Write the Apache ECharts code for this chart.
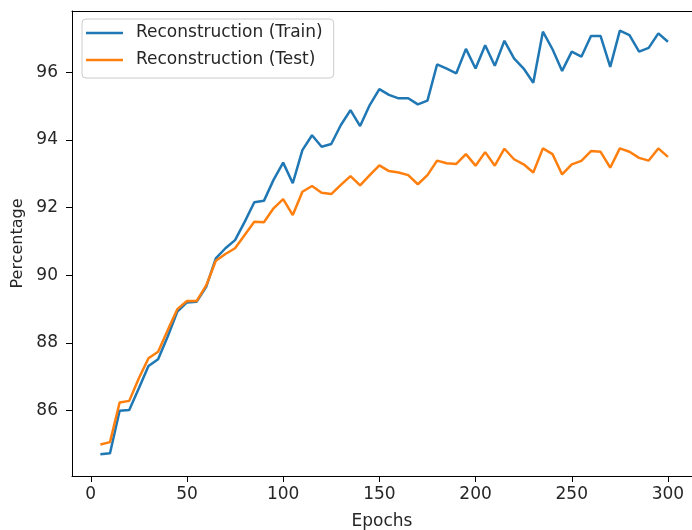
<!DOCTYPE html>
<html>
<head>
<meta charset="utf-8">
<script src="https://cdn.jsdelivr.net/npm/echarts@6/dist/echarts.min.js"></script>
<style>
  html, body { margin: 0; padding: 0; background: #fff; }
  #chart { width: 692px; height: 530px; }
</style>
</head>
<body>
<div id="chart"></div>
<script>
// epochs on x axis
const epochs = [5, 10, 15, 20, 25, 30, 35, 40, 45, 50, 55, 60, 65, 70, 75, 80, 85, 90, 95, 100,
    105, 110, 115, 120, 125, 130, 135, 140, 145, 150, 155, 160, 165, 170, 175, 180, 185, 190, 195, 200,
    205, 210, 215, 220, 225, 230, 235, 240, 245, 250, 255, 260, 265, 270, 275, 280, 285, 290, 295, 300];

const trainAcc = [84.71, 84.74, 86.00, 86.02, 86.66, 87.32, 87.52, 88.19, 88.93, 89.20,
    89.22, 89.66, 90.50, 90.80, 91.04, 91.58, 92.16, 92.20, 92.82, 93.33,
    92.72, 93.70, 94.14, 93.80, 93.88, 94.44, 94.88, 94.41, 95.03, 95.50,
    95.33, 95.23, 95.23, 95.05, 95.16, 96.23, 96.11, 95.97, 96.69, 96.11,
    96.80, 96.19, 96.93, 96.41, 96.11, 95.69, 97.20, 96.68, 96.04, 96.61,
    96.46, 97.07, 97.07, 96.16, 97.23, 97.10, 96.61, 96.72, 97.15, 96.90];

const testAcc = [85.00, 85.07, 86.24, 86.29, 86.96, 87.55, 87.74, 88.38, 89.00, 89.24,
    89.24, 89.70, 90.43, 90.63, 90.80, 91.19, 91.58, 91.57, 91.98, 92.25,
    91.78, 92.47, 92.64, 92.44, 92.40, 92.67, 92.93, 92.66, 92.96, 93.25,
    93.08, 93.04, 92.96, 92.69, 92.96, 93.39, 93.31, 93.29, 93.58, 93.24,
    93.64, 93.24, 93.74, 93.43, 93.28, 93.04, 93.75, 93.58, 92.98, 93.28,
    93.38, 93.67, 93.65, 93.18, 93.75, 93.65, 93.47, 93.39, 93.75, 93.50];

const xTicks = [0, 50, 100, 150, 200, 250, 300];
const yTicks = [86, 88, 90, 92, 94, 96];

const FONT = 'DejaVu Sans';
const TXT = '#262626';

const chart = echarts.init(document.getElementById('chart'));

const option = {
    animation: false,
    backgroundColor: '#fff',
    textStyle: { fontFamily: FONT },
    grid: {
        left: 72,
        top: 11,
        right: 0,
        height: 465,
        show: false,
        outerBoundsMode: 'none'
    },
    legend: {
        orient: 'vertical',
        left: 82,
        top: 19,
        padding: [4, 11, 8, 4],
        itemGap: 7,
        itemWidth: 37,
        itemHeight: 2.5,
        icon: 'rect',
        borderColor: '#cccccc',
        borderWidth: 1,
        borderRadius: 4,
        backgroundColor: 'rgba(255,255,255,0.8)',
        textStyle: {
            fontFamily: FONT,
            fontSize: 17,
            lineHeight: 20,
            color: TXT,
            padding: [0, 0, 0, 8]
        },
        data: ['Reconstruction (Train)', 'Reconstruction (Test)']
    },
    xAxis: [
        {
            type: 'value',
            min: -9.75,
            max: 312.5,
            name: 'Epochs',
            nameLocation: 'middle',
            nameGap: 37,
            nameTextStyle: { fontFamily: FONT, fontSize: 17, color: TXT },
            axisLine: { show: true, onZero: false, lineStyle: { color: '#000', width: 1 } },
            axisTick: {
                show: true, length: 6, inside: false,
                lineStyle: { color: '#000' },
                customValues: xTicks
            },
            axisLabel: {
                fontFamily: FONT, fontSize: 17, color: TXT, margin: 10,
                customValues: xTicks
            },
            splitLine: { show: false }
        },
        {
            // top spine only
            type: 'value',
            position: 'top',
            min: -9.75,
            max: 312.5,
            axisLine: { show: true, onZero: false, lineStyle: { color: '#000', width: 1 } },
            axisTick: { show: false },
            axisLabel: { show: false },
            splitLine: { show: false }
        }
    ],
    yAxis: {
        type: 'value',
        min: 84.07,
        max: 97.81,
        name: 'Percentage',
        nameLocation: 'middle',
        nameGap: 37,
        nameTextStyle: { fontFamily: FONT, fontSize: 16, color: TXT },
        axisLine: { show: true, onZero: false, lineStyle: { color: '#000', width: 1 } },
        axisTick: {
            show: true, length: 6, inside: false,
            lineStyle: { color: '#000' },
            customValues: yTicks
        },
        axisLabel: {
            fontFamily: FONT, fontSize: 17, color: TXT, margin: 14,
            customValues: yTicks
        },
        splitLine: { show: false }
    },
    series: [
        {
            name: 'Reconstruction (Train)',
            type: 'line',
            data: epochs.map((e, i) => [e, trainAcc[i]]),
            symbol: 'none',
            color: '#1f77b4',
            lineStyle: { width: 2.5, color: '#1f77b4' }
        },
        {
            name: 'Reconstruction (Test)',
            type: 'line',
            data: epochs.map((e, i) => [e, testAcc[i]]),
            symbol: 'none',
            color: '#ff7f0e',
            lineStyle: { width: 2.5, color: '#ff7f0e' }
        }
    ]
};

chart.setOption(option);
</script>
</body>
</html>
